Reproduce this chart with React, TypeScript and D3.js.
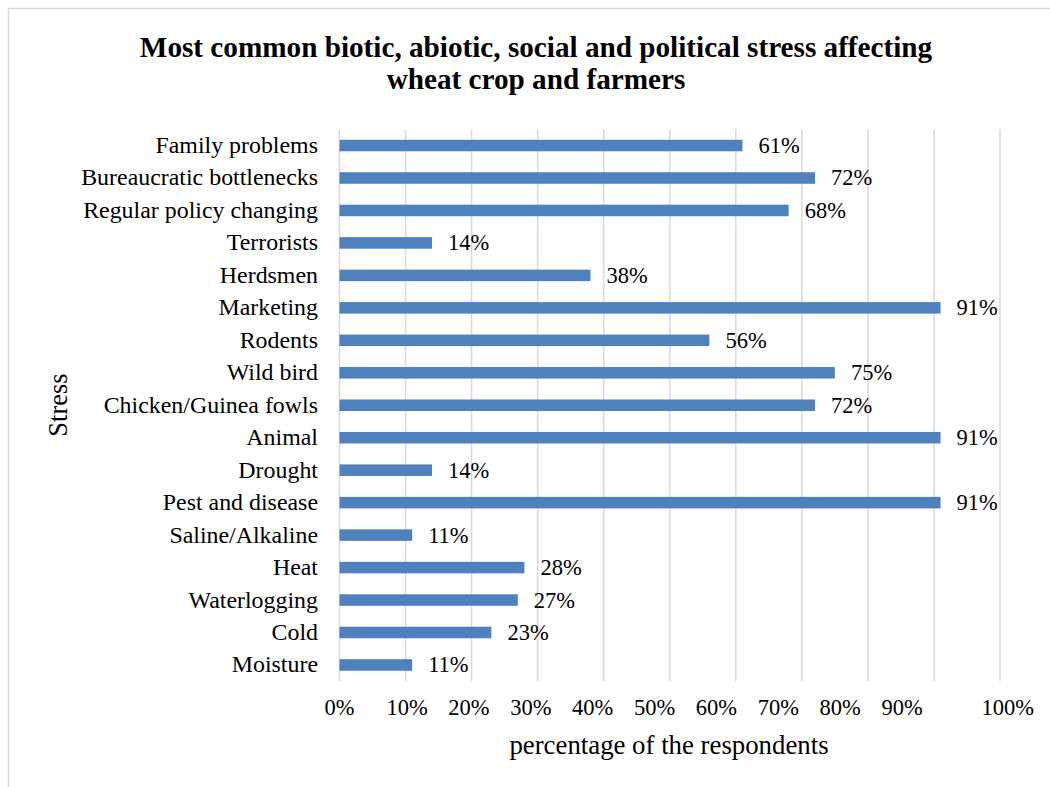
import React from "react";
import * as d3 from "d3";

const categories = [
  "Family problems",
  "Bureaucratic bottlenecks",
  "Regular policy changing",
  "Terrorists",
  "Herdsmen",
  "Marketing",
  "Rodents",
  "Wild bird",
  "Chicken/Guinea fowls",
  "Animal",
  "Drought",
  "Pest and disease",
  "Saline/Alkaline",
  "Heat",
  "Waterlogging",
  "Cold",
  "Moisture",
];
const values = [61, 72, 68, 14, 38, 91, 56, 75, 72, 91, 14, 91, 11, 28, 27, 23, 11];
const ticks = [0, 10, 20, 30, 40, 50, 60, 70, 80, 90, 100];
const titleLines = [
  "Most common biotic, abiotic, social and political stress affecting",
  "wheat crop and farmers",
];
const xTitle = "percentage of the respondents";
const yTitle = "Stress";

const W = 1050;
const H = 787;
const FONT = "'Liberation Serif', 'Times New Roman', serif";

export default function App() {
  const x = d3.scaleLinear().domain([0, 100]).range([339.5, 1000]);
  const y = d3.scaleBand().domain(categories).range([129.3, 681.2]).paddingInner(0.645).paddingOuter(0.3225);
  // tick labels as placed in the source (left edges evenly spaced, 100% shifted)
  const labelLeft = d3.scaleLinear().domain([0, 90]).range([x(0) - 15, x(90) - 52.5]);
  const bw = y.bandwidth();

  return (
    <svg
      width={W}
      height={H}
      style={{ position: "absolute", left: 0, top: 0, background: "#fff" }}
      fontFamily={FONT}
    >
      <rect x={8.5} y={8.5} width={1100} height={900} fill="#fff" stroke="#d9d9d9" strokeWidth={1.5} />
      {titleLines.map((t, i) => (
        <text key={i} x={536} y={56.5 + i * 32} textAnchor="middle" fontSize={29.2} fontWeight="bold" fill="#000">
          {t}
        </text>
      ))}
      {ticks.map((t) => (
        <line key={t} x1={x(t)} x2={x(t)} y1={129} y2={681} stroke="#d9d9d9" strokeWidth={1.5} />
      ))}
      {categories.map((c, i) => {
        const yy = y(c) as number;
        return (
          <g key={c}>
            <rect x={x(0)} y={yy} width={x(values[i]) - x(0)} height={bw} fill="#4f81bd" />
            <text x={318} y={yy + bw / 2 + 7.5} textAnchor="end" fontSize={23.9} fill="#000">
              {c}
            </text>
            <text x={x(values[i]) + 16} y={yy + bw / 2 + 7.5} fontSize={22.5} fill="#000">
              {values[i] + "%"}
            </text>
          </g>
        );
      })}
      {ticks.map((t) => (
        <text
          key={"l" + t}
          x={t === 100 ? x(100) - 18.5 : labelLeft(t)}
          y={715}
          fontSize={22.5}
          fill="#000"
        >
          {t + "%"}
        </text>
      ))}
      <text x={669} y={754} textAnchor="middle" fontSize={26.8} fill="#000">
        {xTitle}
      </text>
      <text transform={`translate(67,405) rotate(-90)`} textAnchor="middle" fontSize={26.5} fill="#000">
        {yTitle}
      </text>
    </svg>
  );
}
